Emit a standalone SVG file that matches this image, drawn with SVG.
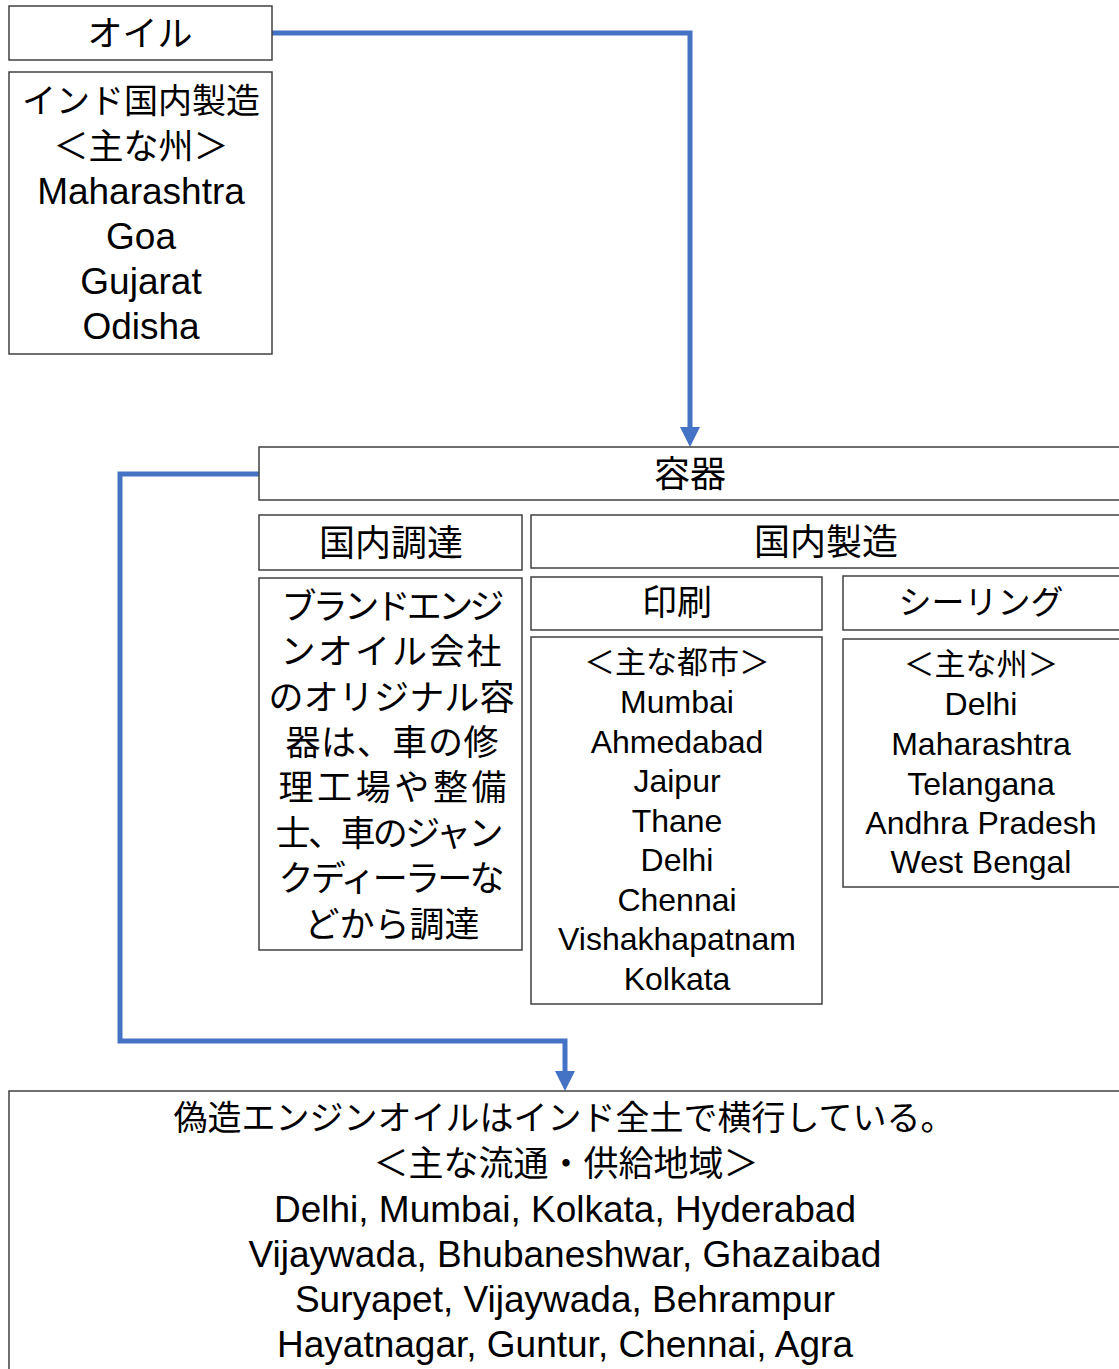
<svg xmlns="http://www.w3.org/2000/svg" width="1119" height="1369" viewBox="0 0 1119 1369">
<style>
.box{fill:#fff;stroke:#404040;stroke-width:1.5}
text{font-family:"Liberation Sans","Noto Sans CJK JP",sans-serif;fill:#000;text-anchor:middle}
.conn{fill:none;stroke:#4472C4;stroke-width:5}
.pd{font-size:35px}
</style>
<defs>
<marker id="ah" viewBox="0 0 20 20" refX="0" refY="10" markerWidth="20" markerHeight="20" markerUnits="userSpaceOnUse" orient="auto">
<path d="M0,0 L20,10 L0,20 Z" fill="#4472C4"/>
</marker>
</defs>
<rect width="1119" height="1369" fill="#fff"/>
<g id="connectors">
<path class="conn" d="M272,33 H690 V427" marker-end="url(#ah)"/>
<path class="conn" d="M259,474 H120 V1041 H565 V1071" marker-end="url(#ah)"/>
</g>
<g id="oil">
<rect class="box" x="9" y="6" width="263" height="54"/>
<text x="140" y="46" font-size="35">オイル</text>
</g>
<g id="oil-domestic">
<rect class="box" x="9" y="72" width="263" height="282"/>
<text x="141" y="113" font-size="34">インド国内製造</text>
<text x="141" y="159" font-size="35">＜主な州＞</text>
<text x="141" y="204" font-size="37">Maharashtra</text>
<text x="141" y="249" font-size="37">Goa</text>
<text x="141" y="294" font-size="37">Gujarat</text>
<text x="141" y="339" font-size="37">Odisha</text>
</g>
<g id="container">
<rect class="box" x="259" y="447" width="870" height="53"/>
<text x="690" y="487" font-size="36">容器</text>
</g>
<g id="procure">
<rect class="box" x="259" y="515" width="263" height="55"/>
<text x="391" y="556" font-size="36">国内調達</text>
</g>
<g id="procure-detail">
<rect class="box" x="259" y="578" width="263" height="372"/>
<text class="pd" x="393" y="618.5" textLength="223" lengthAdjust="spacing">ブランドエンジ</text>
<text class="pd" x="391" y="664" textLength="221" lengthAdjust="spacing">ンオイル会社</text>
<text class="pd" x="391.5" y="709.5" textLength="246" lengthAdjust="spacing">のオリジナル容</text>
<text class="pd" x="392" y="755" textLength="213" lengthAdjust="spacing">器は、車の修</text>
<text class="pd" x="392.5" y="800" textLength="228" lengthAdjust="spacing">理工場や整備</text>
<text class="pd" x="389.5" y="845.5" textLength="228" lengthAdjust="spacing">士、車のジャン</text>
<text class="pd" x="391.5" y="891" textLength="226" lengthAdjust="spacing">クディーラーな</text>
<text class="pd" x="392" y="936.5">どから調達</text>
</g>
<g id="manufacture">
<rect class="box" x="531" y="515" width="598" height="53"/>
<text x="826" y="555" font-size="36">国内製造</text>
</g>
<g id="printing">
<rect class="box" x="531" y="577" width="291" height="53"/>
<text x="677" y="615" font-size="35">印刷</text>
</g>
<g id="printing-detail">
<rect class="box" x="531" y="637" width="291" height="367"/>
<text x="677" y="673" font-size="31">＜主な都市＞</text>
<text x="677" y="713" font-size="32">Mumbai</text>
<text x="677" y="752.5" font-size="32">Ahmedabad</text>
<text x="677" y="792" font-size="32">Jaipur</text>
<text x="677" y="831.5" font-size="32">Thane</text>
<text x="677" y="871" font-size="32">Delhi</text>
<text x="677" y="910.5" font-size="32">Chennai</text>
<text x="677" y="950" font-size="32">Vishakhapatnam</text>
<text x="677" y="989.5" font-size="32">Kolkata</text>
</g>
<g id="sealing">
<rect class="box" x="843" y="576" width="286" height="54"/>
<text x="981" y="614" font-size="33">シーリング</text>
</g>
<g id="sealing-detail">
<rect class="box" x="843" y="639" width="286" height="248"/>
<text x="981" y="675" font-size="31">＜主な州＞</text>
<text x="981" y="715" font-size="32">Delhi</text>
<text x="981" y="755" font-size="32">Maharashtra</text>
<text x="981" y="795" font-size="32">Telangana</text>
<text x="981" y="834" font-size="32">Andhra Pradesh</text>
<text x="981" y="873" font-size="32">West Bengal</text>
</g>
<g id="counterfeit">
<rect class="box" x="9" y="1091" width="1120" height="290"/>
<text x="564" y="1130" font-size="34">偽造エンジンオイルはインド全土で横行している。</text>
<text x="566" y="1176" font-size="35">＜主な流通・供給地域＞</text>
<text x="565" y="1222" font-size="37">Delhi, Mumbai, Kolkata, Hyderabad</text>
<text x="565" y="1267" font-size="37">Vijaywada, Bhubaneshwar, Ghazaibad</text>
<text x="565" y="1312" font-size="37">Suryapet, Vijaywada, Behrampur</text>
<text x="565" y="1357" font-size="37">Hayatnagar, Guntur, Chennai, Agra</text>
</g>
</svg>
